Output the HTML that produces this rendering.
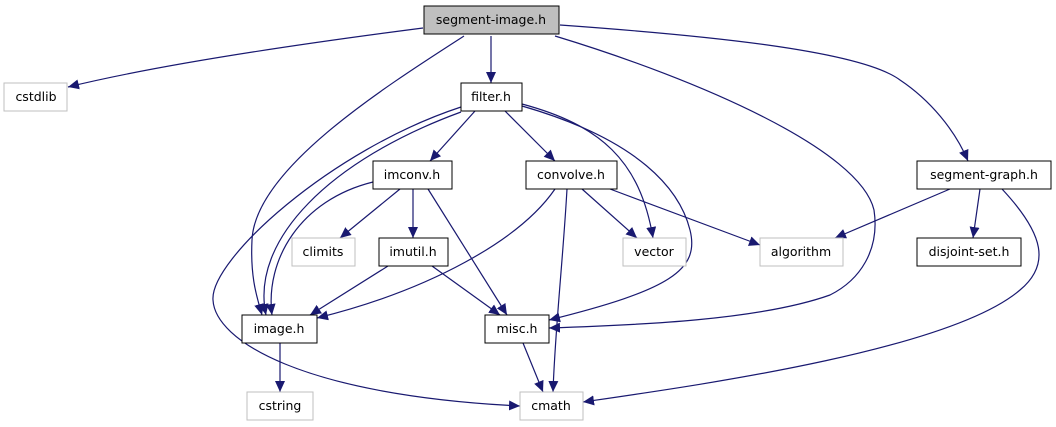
<!DOCTYPE html>
<html><head><meta charset="utf-8"><style>
html,body{margin:0;padding:0;background:#fff}
svg{display:block}
text{font-family:"DejaVu Sans","Liberation Sans",sans-serif;font-size:12.5px;fill:#000;text-anchor:middle}
path.e{fill:none;stroke:#191970;stroke-width:1.2}
</style></head><body>
<svg width="1056" height="427" viewBox="0 0 1056 427" xmlns="http://www.w3.org/2000/svg">
<defs><marker id="a" markerUnits="userSpaceOnUse" markerWidth="12" markerHeight="10" refX="11" refY="5" orient="auto"><path d="M0,0 L11,5 L0,10 Z" fill="#191970"/></marker></defs>
<g marker-end="url(#a)">
<path class="e" d="M423,28 C330,40 170,62 68,87"/>
<path class="e" d="M491,36 L491,83"/>
<path class="e" d="M464,36 C380,90 255,170 252,240 C250,280 258,300 262,315"/>
<path class="e" d="M555,36 C700,80 860,150 874,210 C880,250 860,280 830,295 C760,320 640,325 549,328"/>
<path class="e" d="M560,25 C700,35 860,50 900,80 C930,100 955,130 968,161"/>
<path class="e" d="M475,111 L430,161"/>
<path class="e" d="M505,111 L555,161"/>
<path class="e" d="M522,104 C600,125 640,160 653,238"/>
<path class="e" d="M522,106 C640,140 680,190 690,230 C700,270 670,290 549,320"/>
<path class="e" d="M461,107 C330,150 210,260 213,300 C215,340 300,395 520,406"/>
<path class="e" d="M461,112 C330,160 250,240 266,315"/>
<path class="e" d="M373,182 C300,200 265,260 272,315"/>
<path class="e" d="M400,189 L340,238"/>
<path class="e" d="M413,189 L413,238"/>
<path class="e" d="M428,189 L507,315"/>
<path class="e" d="M555,189 C520,240 430,290 317,318"/>
<path class="e" d="M567,189 C563,260 555,330 553,392"/>
<path class="e" d="M582,189 L637,238"/>
<path class="e" d="M610,189 L760,245"/>
<path class="e" d="M388,266 L310,315"/>
<path class="e" d="M432,266 L500,315"/>
<path class="e" d="M280,343 L280,392"/>
<path class="e" d="M523,343 L543,392"/>
<path class="e" d="M950,189 L835,238"/>
<path class="e" d="M980,189 L973,238"/>
<path class="e" d="M1002,189 C1045,235 1050,265 1020,290 C950,350 700,385 583,402"/>
</g>
<g stroke-width="1">
<rect x="424" y="6" width="135" height="28" fill="#bfbfbf" stroke="#000"/>
<rect x="4" y="83" width="63" height="28" fill="#fff" stroke="#bfbfbf"/>
<rect x="461" y="83" width="61" height="28" fill="#fff" stroke="#000"/>
<rect x="373" y="161" width="79" height="28" fill="#fff" stroke="#000"/>
<rect x="526" y="161" width="91" height="28" fill="#fff" stroke="#000"/>
<rect x="917" y="161" width="134" height="28" fill="#fff" stroke="#000"/>
<rect x="292" y="238" width="63" height="28" fill="#fff" stroke="#bfbfbf"/>
<rect x="379" y="238" width="69" height="28" fill="#fff" stroke="#000"/>
<rect x="623" y="238" width="63" height="28" fill="#fff" stroke="#bfbfbf"/>
<rect x="760" y="238" width="83" height="28" fill="#fff" stroke="#bfbfbf"/>
<rect x="917" y="238" width="104" height="28" fill="#fff" stroke="#000"/>
<rect x="242" y="315" width="75" height="28" fill="#fff" stroke="#000"/>
<rect x="485" y="315" width="64" height="28" fill="#fff" stroke="#000"/>
<rect x="247" y="392" width="66" height="28" fill="#fff" stroke="#bfbfbf"/>
<rect x="520" y="392" width="63" height="28" fill="#fff" stroke="#bfbfbf"/>
</g>
<text x="491" y="24">segment-image.h</text>
<text x="36" y="101">cstdlib</text>
<text x="491" y="101">filter.h</text>
<text x="412" y="179">imconv.h</text>
<text x="571" y="179">convolve.h</text>
<text x="984" y="179">segment-graph.h</text>
<text x="323" y="256">climits</text>
<text x="413" y="256">imutil.h</text>
<text x="654" y="256">vector</text>
<text x="801" y="256">algorithm</text>
<text x="969" y="256">disjoint-set.h</text>
<text x="279" y="333">image.h</text>
<text x="517" y="333">misc.h</text>
<text x="280" y="410">cstring</text>
<text x="551" y="410">cmath</text>
</svg>
</body></html>
